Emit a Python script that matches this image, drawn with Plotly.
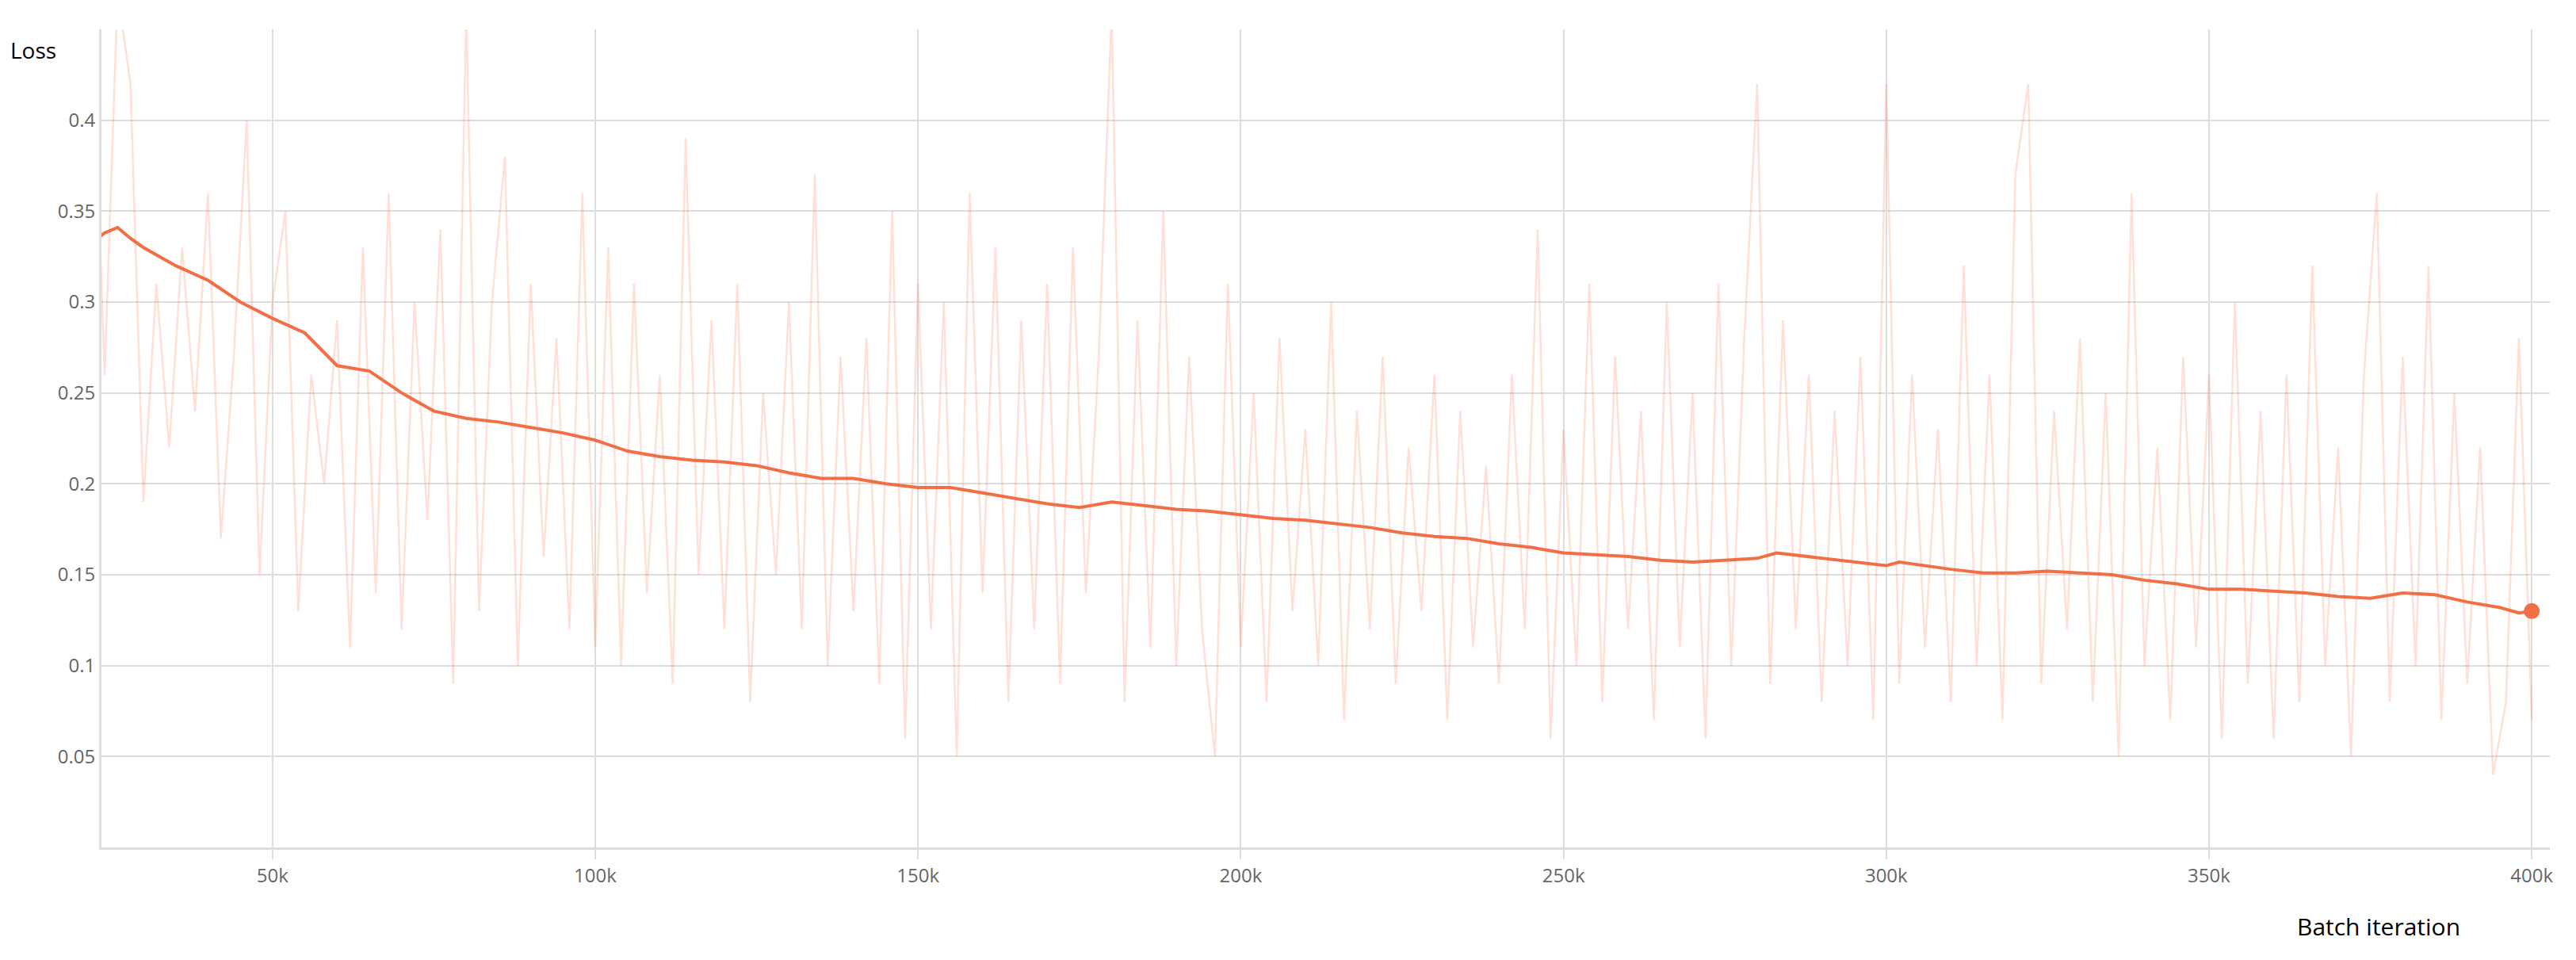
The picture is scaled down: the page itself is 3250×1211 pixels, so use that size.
import plotly.graph_objects as go
import numpy as np

# Rohdaten (alle 2k Iterationen, aus dem Bild geschätzt)
raw_steps = list(range(22000, 400001, 2000))
raw_loss = [
    0.46, 0.26, 0.47, 0.42, 0.19, 0.31, 0.22, 0.33, 0.24, 0.36,
    0.17, 0.27, 0.40, 0.15, 0.30, 0.35, 0.13, 0.26, 0.20, 0.29,
    0.11, 0.33, 0.14, 0.36, 0.12, 0.30, 0.18, 0.34, 0.09, 0.46,
    0.13, 0.30, 0.38, 0.10, 0.31, 0.16, 0.28, 0.12, 0.36, 0.11,
    0.33, 0.10, 0.31, 0.14, 0.26, 0.09, 0.39, 0.15, 0.29, 0.12,
    0.31, 0.08, 0.25, 0.15, 0.30, 0.12, 0.37, 0.10, 0.27, 0.13,
    0.28, 0.09, 0.35, 0.06, 0.31, 0.12, 0.30, 0.05, 0.36, 0.14,
    0.33, 0.08, 0.29, 0.12, 0.31, 0.09, 0.33, 0.14, 0.27, 0.46,
    0.08, 0.29, 0.11, 0.35, 0.10, 0.27, 0.12, 0.05, 0.31, 0.11,
    0.25, 0.08, 0.28, 0.13, 0.23, 0.10, 0.30, 0.07, 0.24, 0.12,
    0.27, 0.09, 0.22, 0.13, 0.26, 0.07, 0.24, 0.11, 0.21, 0.09,
    0.26, 0.12, 0.34, 0.06, 0.23, 0.10, 0.31, 0.08, 0.27, 0.12,
    0.24, 0.07, 0.30, 0.11, 0.25, 0.06, 0.31, 0.10, 0.28, 0.42,
    0.09, 0.29, 0.12, 0.26, 0.08, 0.24, 0.10, 0.27, 0.07, 0.42,
    0.09, 0.26, 0.11, 0.23, 0.08, 0.32, 0.10, 0.26, 0.07, 0.37,
    0.42, 0.09, 0.24, 0.12, 0.28, 0.08, 0.25, 0.05, 0.36, 0.10,
    0.22, 0.07, 0.27, 0.11, 0.26, 0.06, 0.30, 0.09, 0.24, 0.06,
    0.26, 0.08, 0.32, 0.10, 0.22, 0.05, 0.26, 0.36, 0.08, 0.27,
    0.10, 0.32, 0.07, 0.25, 0.09, 0.22, 0.04, 0.08, 0.28, 0.07,
]

# Geglättete Kurve
smooth_steps = [22, 24, 26, 28, 30, 35, 40, 45, 50, 55, 60, 65, 70, 75, 80, 85, 90, 95,
                100, 105, 110, 115, 120, 125, 130, 135, 140, 145, 150, 155, 160, 165,
                170, 175, 180, 185, 190, 195, 200, 205, 210, 215, 220, 225, 230, 235,
                240, 245, 250, 255, 260, 265, 270, 275, 280, 283, 290, 295, 300, 302,
                310, 315, 320, 325, 330, 335, 340, 345, 350, 355, 360, 365, 370, 375,
                380, 385, 390, 395, 398, 400]
smooth_loss = [0.333, 0.338, 0.341, 0.335, 0.330, 0.320, 0.312, 0.300, 0.291, 0.283,
               0.265, 0.262, 0.250, 0.240, 0.236, 0.234, 0.231, 0.228, 0.224, 0.218,
               0.215, 0.213, 0.212, 0.210, 0.206, 0.203, 0.203, 0.200, 0.198, 0.198,
               0.195, 0.192, 0.189, 0.187, 0.190, 0.188, 0.186, 0.185, 0.183, 0.181,
               0.180, 0.178, 0.176, 0.173, 0.171, 0.170, 0.167, 0.165, 0.162, 0.161,
               0.160, 0.158, 0.157, 0.158, 0.159, 0.162, 0.159, 0.157, 0.155, 0.157,
               0.153, 0.151, 0.151, 0.152, 0.151, 0.150, 0.147, 0.145, 0.142, 0.142,
               0.141, 0.140, 0.138, 0.137, 0.140, 0.139, 0.135, 0.132, 0.129, 0.130]
smooth_x = [s * 1000 for s in smooth_steps]

tick_vals = [50000, 100000, 150000, 200000, 250000, 300000, 350000, 400000]
tick_text = ["50k", "100k", "150k", "200k", "250k", "300k", "350k", "400k"]
y_ticks = [0.05, 0.1, 0.15, 0.2, 0.25, 0.3, 0.35, 0.4]

fig = go.Figure()
fig.add_trace(go.Scatter(x=raw_steps, y=raw_loss, mode='lines',
                         line=dict(color='rgba(255,112,67,0.22)', width=2.5)))
fig.add_trace(go.Scatter(x=smooth_x, y=smooth_loss, mode='lines',
                         line=dict(color='#f26f45', width=4)))
fig.add_trace(go.Scatter(x=smooth_x[-1:], y=smooth_loss[-1:], mode='markers',
                         marker=dict(color='#f26f45', size=20)))

fig.update_layout(
    width=3250, height=1211, showlegend=False,
    plot_bgcolor='white', paper_bgcolor='white',
    margin=dict(l=120, r=41, t=29, b=150),
    font=dict(family='Open Sans', color='#555'),
    xaxis=dict(range=[23500, 402800], tickvals=tick_vals, ticktext=tick_text,
               showgrid=True, gridcolor='#ddd', gridwidth=2, zeroline=False,
               showline=True, linecolor='#ddd', linewidth=3, mirror=False,
               ticks='outside', ticklen=12, tickcolor='#ddd', tickwidth=2,
               tickfont=dict(size=24, color='#666')),
    yaxis=dict(range=[0, 0.45], tickvals=y_ticks, ticktext=[str(v) for v in y_ticks],
               showgrid=True, gridcolor='#ddd', gridwidth=2, zeroline=False,
               showline=True, linecolor='#ddd', linewidth=3,
               ticks='', tickfont=dict(size=24, color='#666')),
)
fig.add_annotation(text="Loss", xref='paper', yref='paper', x=-0.038, y=0.975,
                   xanchor='left', yanchor='middle', showarrow=False,
                   font=dict(size=28, color='black'))
fig.add_annotation(text="Batch iteration", xref='paper', yref='paper', x=0.93, y=-0.075,
                   xanchor='center', yanchor='top', showarrow=False,
                   font=dict(size=30, color='black'))

fig.write_html("out.html")
